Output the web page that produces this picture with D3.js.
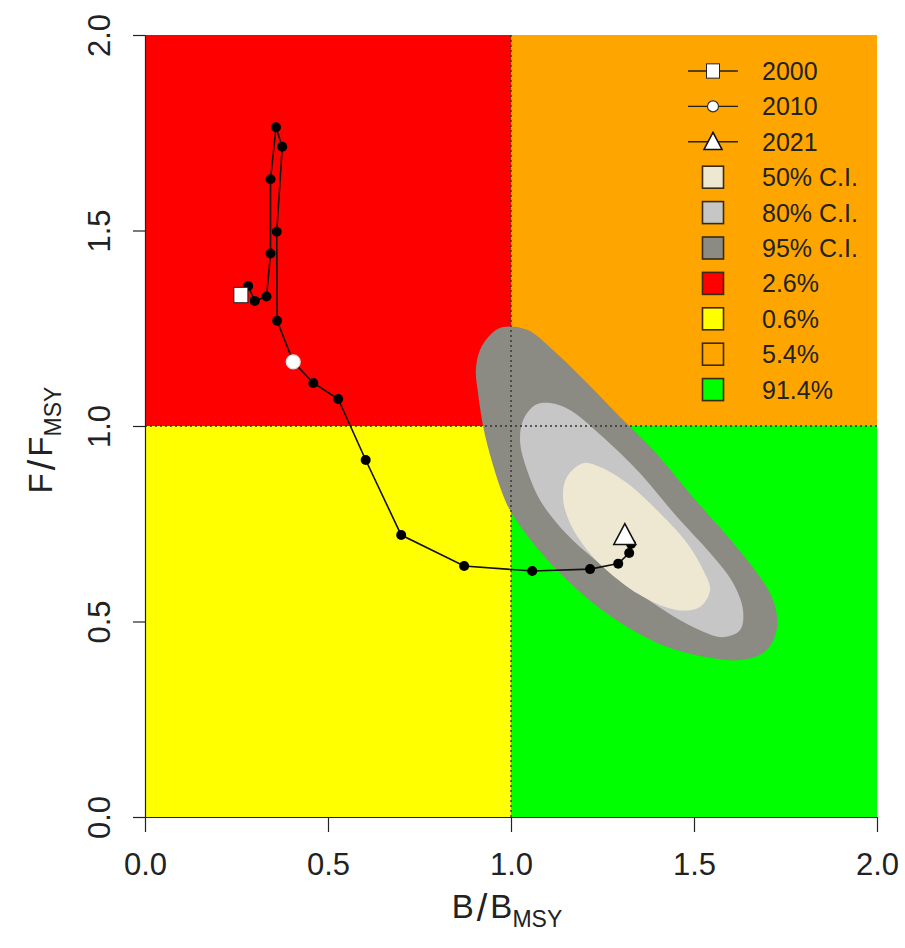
<!DOCTYPE html>
<html>
<head>
<meta charset="utf-8">
<script src="https://cdn.jsdelivr.net/npm/d3@7"></script>
<style>
  html, body { margin: 0; padding: 0; background: #ffffff; }
  svg { display: block; }
  text { font-family: "Liberation Sans", Arial, sans-serif; fill: #222; }
</style>
</head>
<body>
<svg id="chart" width="905" height="948"></svg>
<script>
// ---------------- data ----------------
const years = [2000,2001,2002,2003,2004,2005,2006,2007,2008,2009,2010,
               2011,2012,2013,2014,2015,2016,2017,2018,2019,2020,2021];
const bRatio = [0.262,0.282,0.300,0.332,0.343,0.343,0.358,0.375,0.360,0.361,0.405,
                0.460,0.528,0.603,0.700,0.872,1.058,1.216,1.293,1.323,1.328,1.311];
const fRatio = [1.335,1.358,1.320,1.331,1.441,1.631,1.764,1.714,1.497,1.269,1.164,
                1.110,1.069,0.913,0.721,0.642,0.629,0.634,0.648,0.675,0.698,0.721];

// confidence region outlines [B/Bmsy, F/Fmsy]
const ci95 = [[0.978,1.253],[0.943,1.233],[0.915,1.194],[0.904,1.143],[0.910,1.084],
              [0.921,1.015],[0.934,0.957],[0.970,0.844],[0.997,0.785],[1.060,0.701],
              [1.134,0.624],[1.224,0.547],[1.317,0.486],[1.426,0.435],[1.544,0.407],
              [1.634,0.402],[1.699,0.427],[1.727,0.486],[1.716,0.555],[1.680,0.614],
              [1.607,0.701],[1.497,0.818],[1.388,0.939],[1.298,1.023],[1.208,1.110],
              [1.115,1.194],[1.044,1.246]];
const ci80 = [[1.066,1.054],[1.033,1.015],[1.025,0.957],[1.044,0.887],[1.079,0.811],
              [1.134,0.742],[1.208,0.675],[1.290,0.614],[1.388,0.547],[1.497,0.486],
              [1.579,0.460],[1.626,0.478],[1.634,0.529],[1.607,0.598],[1.544,0.675],
              [1.454,0.767],[1.352,0.880],[1.251,0.972],[1.161,1.041],[1.107,1.059]];
const ci50 = [[1.197,0.905],[1.153,0.870],[1.142,0.818],[1.161,0.752],[1.208,0.683],
              [1.270,0.624],[1.361,0.563],[1.454,0.529],[1.516,0.537],[1.544,0.581],
              [1.525,0.632],[1.481,0.701],[1.407,0.777],[1.317,0.854],[1.243,0.895]];

const xTicks = [0.0, 0.5, 1.0, 1.5, 2.0];
const yTicks = [0.0, 0.5, 1.0, 1.5, 2.0];

const quadrants = [
  {x0:0, x1:1, y0:1, y1:2, color:"#FF0000"},
  {x0:1, x1:2, y0:1, y1:2, color:"#FFA500"},
  {x0:0, x1:1, y0:0, y1:1, color:"#FFFF00"},
  {x0:1, x1:2, y0:0, y1:1, color:"#00FF00"}
];

const legendLineLabels = ["2000", "2010", "2021"];
const legendLineShapes = ["square", "circle", "triangle"];
const legendBoxLabels = ["50% C.I.", "80% C.I.", "95% C.I.", "2.6%", "0.6%", "5.4%", "91.4%"];
const legendBoxColors = ["#EEE8D2", "#C6C6C6", "#8B8A83", "#FF0000", "#FFFF00", "#FFA500", "#00FF00"];
const ciColors = {c95:"#8B8A83", c80:"#C6C6C6", c50:"#EEE8D2"};

// ---------------- layout ----------------
const svg = d3.select("#chart");
const mLeft = 145, mRight = 877, mTop = 35, mBottom = 817;
const x = d3.scaleLinear().domain([0, 2]).range([mLeft, mRight]);
const y = d3.scaleLinear().domain([0, 2]).range([mBottom, mTop]);

svg.append("defs").append("clipPath").attr("id", "plotclip")
  .append("rect").attr("x", mLeft).attr("y", mTop)
  .attr("width", mRight - mLeft).attr("height", mBottom - mTop);

const plot = svg.append("g").attr("clip-path", "url(#plotclip)");

// quadrants
plot.selectAll("rect.quad").data(quadrants).join("rect")
  .attr("class", "quad")
  .attr("x", d => x(d.x0)).attr("y", d => y(d.y1))
  .attr("width", d => x(d.x1) - x(d.x0))
  .attr("height", d => y(d.y0) - y(d.y1))
  .attr("fill", d => d.color);

// CI contours
const contourLine = d3.line().x(d => x(d[0])).y(d => y(d[1])).curve(d3.curveCatmullRomClosed.alpha(0.5));
[[ci95, ciColors.c95], [ci80, ciColors.c80], [ci50, ciColors.c50]].forEach(([pts, col]) => {
  plot.append("path").attr("d", contourLine(pts)).attr("fill", col).attr("stroke", "none");
});

// reference lines
plot.append("line").attr("x1", x(1)).attr("x2", x(1)).attr("y1", y(0)).attr("y2", y(2))
  .attr("stroke", "#333").attr("stroke-width", 1.4).attr("stroke-dasharray", "2,3");
plot.append("line").attr("x1", x(0)).attr("x2", x(2)).attr("y1", y(1)).attr("y2", y(1))
  .attr("stroke", "#333").attr("stroke-width", 1.4).attr("stroke-dasharray", "2,3");

// trajectory
const traj = years.map((yr, i) => ({year: yr, b: bRatio[i], f: fRatio[i]}));
const trajLine = d3.line().x(d => x(d.b)).y(d => y(d.f));
plot.append("path").attr("d", trajLine(traj))
  .attr("fill", "none").attr("stroke", "#111").attr("stroke-width", 1.6);
plot.selectAll("circle.pt").data(traj).join("circle")
  .attr("class", "pt")
  .attr("cx", d => x(d.b)).attr("cy", d => y(d.f)).attr("r", 5)
  .attr("fill", "#000");

function drawMarker(g, shape, cx, cy, s, circStroke) {
  if (shape === "square") {
    g.append("rect").attr("x", cx - s * 0.5).attr("y", cy - s * 0.55)
      .attr("width", s).attr("height", s * 1.1)
      .attr("fill", "#fff").attr("stroke", "#222").attr("stroke-width", 1);
  } else if (shape === "circle") {
    g.append("circle").attr("cx", cx).attr("cy", cy).attr("r", s * 0.5)
      .attr("fill", "#fff").attr("stroke", circStroke || "#ddd").attr("stroke-width", 1.2);
  } else {
    const h = s * 0.95;
    g.append("path")
      .attr("d", `M${cx},${cy - h * 0.55} L${cx + s / 2},${cy + h * 0.45} L${cx - s / 2},${cy + h * 0.45} Z`)
      .attr("fill", "#fff").attr("stroke", "#111").attr("stroke-width", 1.6)
      .attr("stroke-linejoin", "miter");
  }
}
const first = traj[0], mid = traj[years.indexOf(2010)], last = traj[traj.length - 1];
drawMarker(plot, "square", x(first.b), y(first.f), 14);
drawMarker(plot, "circle", x(mid.b), y(mid.f), 14);
drawMarker(plot, "triangle", x(last.b), y(last.f), 22);

// ---------------- axes ----------------
const fmt = d3.format(".1f");
const xAxis = svg.append("g").attr("transform", `translate(0,${mBottom})`)
  .call(d3.axisBottom(x).tickValues(xTicks).tickFormat(fmt).tickSize(15).tickSizeOuter(0));
xAxis.select(".domain").attr("stroke", "#222").attr("stroke-width", 1.2);
xAxis.selectAll(".tick line").attr("stroke", "#222").attr("stroke-width", 1.2);
xAxis.selectAll(".tick text").attr("y", 58).attr("dy", 0)
  .style("font-size", "31px").attr("fill", "#222");

const yAxis = svg.append("g").attr("transform", `translate(${mLeft},0)`)
  .call(d3.axisLeft(y).tickValues(yTicks).tickFormat(fmt).tickSize(12).tickSizeOuter(0));
yAxis.select(".domain").attr("stroke", "#222").attr("stroke-width", 1.2);
yAxis.selectAll(".tick line").attr("stroke", "#222").attr("stroke-width", 1.2);
yAxis.selectAll(".tick text")
  .attr("transform", "rotate(-90)")
  .attr("x", 0).attr("y", -35).attr("dy", 0)
  .attr("text-anchor", "middle")
  .style("font-size", "31px").attr("fill", "#222");

// axis titles (plotmath-like "X / X[MSY]")
function axisTitle(g, letter) {
  g.append("tspan").text(letter);
  g.append("tspan").attr("dx", 3).attr("dy", 3).style("font-size", "38px").text("/");
  g.append("tspan").attr("dx", 3).attr("dy", -3).text(letter);
  g.append("tspan").attr("dy", 9).style("font-size", "23px").text("MSY");
}
const xt = svg.append("text").attr("x", 507).attr("y", 918).attr("text-anchor", "middle")
  .style("font-size", "33px");
axisTitle(xt, "B");

const yt = svg.append("text").attr("transform", `translate(52,440) rotate(-90)`)
  .attr("text-anchor", "middle").style("font-size", "33px");
axisTitle(yt, "F");

// ---------------- legend ----------------
const legX = 713, legTextX = 762, legY0 = 71, legStep = 35.4;
const legend = svg.append("g");
legendLineLabels.forEach((lab, i) => {
  const cy = legY0 + i * legStep;
  legend.append("line").attr("x1", 688).attr("x2", 738).attr("y1", cy).attr("y2", cy)
    .attr("stroke", "#222").attr("stroke-width", 1.4);
  drawMarker(legend, legendLineShapes[i], legX, cy,
    legendLineShapes[i] === "triangle" ? 18 : (legendLineShapes[i] === "circle" ? 11 : 13), "#333");
  legend.append("text").attr("x", legTextX).attr("y", cy).attr("dy", "0.36em")
    .style("font-size", "25px").attr("fill", "#2a1a08").text(lab);
});
legendBoxLabels.forEach((lab, i) => {
  const cy = legY0 + (i + 3) * legStep;
  legend.append("rect").attr("x", legX - 10.5).attr("y", cy - 11)
    .attr("width", 21).attr("height", 22)
    .attr("fill", legendBoxColors[i]).attr("stroke", "#3a2a10").attr("stroke-width", 1.6);
  legend.append("text").attr("x", legTextX).attr("y", cy).attr("dy", "0.36em")
    .style("font-size", "25px").attr("fill", "#2a1a08").text(lab);
});
</script>
</body>
</html>
